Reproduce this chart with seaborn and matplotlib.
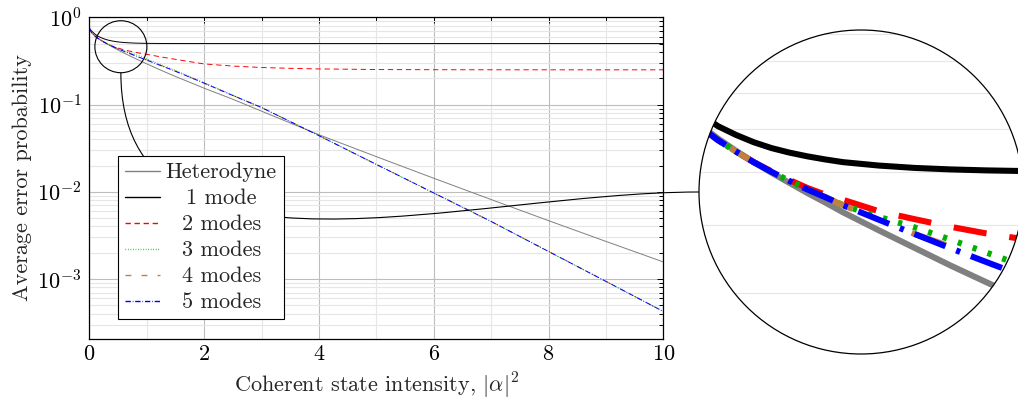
import numpy as np
import pandas as pd
import matplotlib
matplotlib.use('Agg')
import matplotlib.pyplot as plt
import matplotlib.ticker as mticker
import matplotlib.transforms as mtransforms
from matplotlib.patches import Circle, PathPatch
from matplotlib.path import Path
from matplotlib.lines import Line2D
import seaborn as sns

# Values
intensity = [0, 0.05, 0.1, 0.15, 0.2, 0.25, 0.3, 0.35, 0.4, 0.45, 0.5, 0.6, 0.7, 0.8, 0.9,
             1.0, 1.25, 1.5, 2, 2.5, 3, 3.5, 4, 5, 6, 7, 8, 9, 10]
heterodyne = [0.75, 0.654, 0.611, 0.577, 0.548, 0.522, 0.499, 0.478, 0.458, 0.440, 0.422, 0.391,
              0.363, 0.337, 0.314, 0.293, 0.247, 0.210, 0.154, 0.115, 0.084, 0.0615, 0.0451,
              0.0253, 0.0143, 0.00815, 0.00467, 0.0027, 0.00157]
mode1 = [0.75, 0.685, 0.640, 0.608, 0.586, 0.568, 0.554, 0.5435, 0.535, 0.528, 0.522, 0.5145,
         0.5094, 0.5062, 0.5041, 0.5028, 0.5008, 0.5003, 0.5, 0.5, 0.5, 0.5, 0.5, 0.5, 0.5,
         0.5, 0.5, 0.5, 0.5]
mode2 = [0.75, 0.652, 0.607, 0.573, 0.546, 0.522, 0.502, 0.484, 0.468, 0.455, 0.445, 0.424,
         0.410, 0.397, 0.386, 0.377, 0.351, 0.330, 0.292, 0.276, 0.266, 0.260, 0.256, 0.252,
         0.2508, 0.2503, 0.2501, 0.25, 0.25]
mode3 = [0.75, 0.652, 0.607, 0.573, 0.546, 0.522, 0.501, 0.482, 0.465, 0.450, 0.435, 0.414,
         0.396, 0.376, 0.356, 0.337, 0.287, 0.246, 0.178, 0.128, 0.0925, 0.0638, 0.0440,
         0.0206, 0.0097, 0.00457, 0.00207, 0.00094, 0.000425]
mode4 = [0.75, 0.652, 0.607, 0.573, 0.546, 0.522, 0.501, 0.482, 0.465, 0.450, 0.435, 0.409,
         0.385, 0.365, 0.345, 0.326, 0.281, 0.241, 0.176, 0.127, 0.0925, 0.0638, 0.0440,
         0.0206, 0.0097, 0.00457, 0.00207, 0.00094, 0.000425]
mode5 = [0.75, 0.652, 0.607, 0.573, 0.546, 0.522, 0.501, 0.482, 0.465, 0.450, 0.435, 0.409,
         0.385, 0.3625, 0.342, 0.323, 0.279, 0.241, 0.176, 0.127, 0.0925, 0.0638, 0.0440,
         0.0206, 0.0097, 0.00457, 0.00207, 0.00094, 0.000425]

labels = ['Heterodyne', '1 mode', '2 modes', '3 modes', '4 modes', '5 modes']
series = [heterodyne, mode1, mode2, mode3, mode4, mode5]

df = pd.concat([pd.DataFrame({'intensity': intensity, 'prob': s, 'curve': lab})
                for lab, s in zip(labels, series)], ignore_index=True)

colors = dict(zip(labels, ['#808080', '#000000', '#ff0000', '#00b000', '#bf8040', '#0000ff']))
dashes = dict(zip(labels, ['', '', (5.5, 3.8), (0.7, 1.9), (6, 10.5), (5.5, 1.9, 0.7, 1.9)]))

sns.set_theme(style='white')
plt.rcParams['font.family'] = ['cmr10']
plt.rcParams['mathtext.fontset'] = 'cm'
plt.rcParams['axes.formatter.use_mathtext'] = True
plt.rcParams['axes.edgecolor'] = 'black'
plt.rcParams['axes.unicode_minus'] = True

FS = 16
LW = 0.7
W, H = 1018, 399
fig = plt.figure(figsize=(W / 100, H / 100), dpi=100)
ax = fig.add_axes([89.3 / W, 1 - 338.7 / H, 574 / W, 321.4 / H])
ax.set_yscale('log')


def draw_curves(axis, lw):
    sns.lineplot(data=df, x='intensity', y='prob', hue='curve', style='curve',
                 hue_order=labels, style_order=labels, palette=colors, dashes=dashes,
                 linewidth=lw, estimator=None, sort=False, legend=False, ax=axis)


def style_grid(axis):
    axis.xaxis.set_major_locator(mticker.MultipleLocator(2))
    axis.xaxis.set_minor_locator(mticker.MultipleLocator(1))
    axis.yaxis.set_major_locator(mticker.LogLocator(base=10, numticks=10))
    axis.yaxis.set_minor_locator(mticker.LogLocator(base=10, subs=np.arange(2, 10), numticks=10))
    axis.yaxis.set_minor_formatter(mticker.NullFormatter())
    axis.grid(True, which='major', color='#bdbdbd', lw=0.8)
    axis.grid(True, which='minor', color='#e6e6e6', lw=0.8)


draw_curves(ax, LW)
style_grid(ax)
ax.set_xlim(0, 10)
ax.set_ylim(2.07e-4, 1)
for sp in ax.spines.values():
    sp.set_color('black')
    sp.set_linewidth(0.9)
ax.tick_params(which='both', direction='in', top=True, right=True, color='black',
               width=0.7, labelsize=FS, labelcolor='black')
ax.tick_params(which='major', length=4.5)
ax.tick_params(which='minor', length=3)
ax.tick_params(axis='x', pad=4.5)
ax.tick_params(axis='y', pad=5.5)
ax.set_xlabel('Coherent state intensity, $|\\alpha|^2$', fontsize=FS, labelpad=4.5)
ax.set_ylabel('Average error probability', fontsize=FS, labelpad=4)

# legend samples a bit thicker so the colours survive antialiasing, same dash lengths
HLW = 1.0
handles = []
for lab in labels:
    h = Line2D([], [], color=colors[lab], lw=HLW)
    if dashes[lab]:
        h.set_dashes([v * LW / HLW for v in dashes[lab]])
    handles.append(h)
leg = ax.legend(handles, labels, loc='lower left', bbox_to_anchor=(0.05, 0.061),
                borderaxespad=0, frameon=True, fancybox=False, edgecolor='black',
                framealpha=1, fontsize=FS, handlelength=1.6, handletextpad=0.25,
                labelspacing=0.29, borderpad=0.3)
leg.get_frame().set_linewidth(0.8)
leg.set_zorder(6)
for h in leg.get_lines():
    h.set_snap(True)

# spy: small circle on the main axes, magnified copy in a round inset
ident = mtransforms.IdentityTransform()
cx, cy = ax.transData.transform((0.55, 0.46))
r_small = 26
bx, by = 861, H - 192
R = 162
mag = R / r_small

ax.add_patch(Circle((cx, cy), r_small, transform=ident, fill=False, edgecolor='black',
                    lw=0.8, zorder=4, clip_on=False))

p0 = (cx, cy - r_small)
p3 = (bx - R, by)
d = 0.3915 * np.hypot(p3[0] - p0[0], p3[1] - p0[1])
conn = Path([p0, (p0[0], p0[1] - d), (p3[0] - d, p3[1]), p3],
            [Path.MOVETO, Path.CURVE4, Path.CURVE4, Path.CURVE4])
ax.add_patch(PathPatch(conn, transform=ident, fill=False, edgecolor='black', lw=0.8,
                       zorder=4, clip_on=False))

axin = fig.add_axes([(bx - R) / W, (by - R) / H, 2 * R / W, 2 * R / H])
axin.set_yscale('log')
draw_curves(axin, LW * mag)
style_grid(axin)
inv = ax.transData.inverted()
x0, y0 = inv.transform((cx - r_small, cy - r_small))
x1, y1 = inv.transform((cx + r_small, cy + r_small))
axin.set_xlabel('')
axin.set_ylabel('')
axin.tick_params(which='both', length=0, labelbottom=False, labelleft=False)
for sp in axin.spines.values():
    sp.set_visible(False)
axin.patch.set_visible(False)
clip = Circle((0.5, 0.5), 0.5, transform=axin.transAxes)
axin.add_patch(Circle((0.5, 0.5), 0.5, transform=axin.transAxes, facecolor='white',
                      edgecolor='none', zorder=0))
axin.add_patch(Circle((0.5, 0.5), 0.5, transform=axin.transAxes, fill=False,
                      edgecolor='black', lw=0.9, zorder=5, clip_on=False))
axin.set_xlim(x0, x1)
axin.set_ylim(y0, y1)

fig.canvas.draw()
for line in axin.get_lines():
    line.set_clip_path(clip)
for tk in (axin.xaxis.get_major_ticks() + axin.xaxis.get_minor_ticks()
           + axin.yaxis.get_major_ticks() + axin.yaxis.get_minor_ticks()):
    tk.gridline.set_clip_path(clip)

# centre the legend texts like the reference
r = fig.canvas.get_renderer()
texts = leg.get_texts()
wmax = max(t.get_window_extent(r).width for t in texts)
for t in texts:
    w = t.get_window_extent(r).width
    t.set_position(((wmax - w) / 2, 0))

fig.savefig('out.png', dpi=100)
